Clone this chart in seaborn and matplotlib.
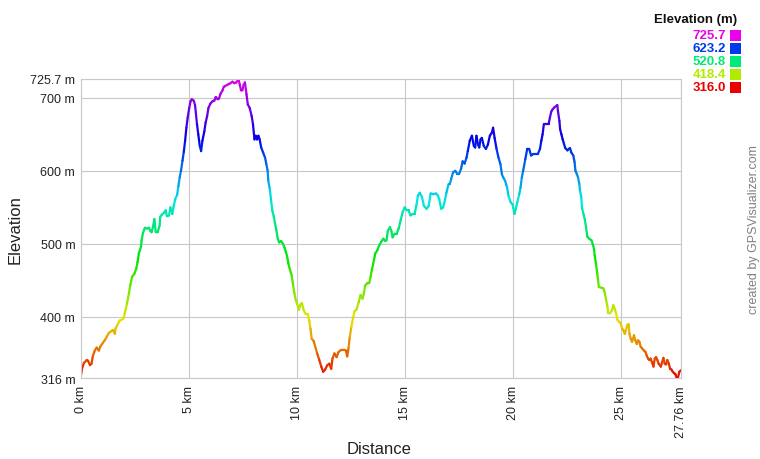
import numpy as np
import pandas as pd
import matplotlib
matplotlib.use("Agg")
import matplotlib.pyplot as plt
import seaborn as sns
from matplotlib.colors import hsv_to_rgb
from matplotlib.patches import Rectangle

# ---------------------------------------------------------------------------
# DATA
# ---------------------------------------------------------------------------
distance_km = [
    0.00, 0.06, 0.15, 0.28, 0.34, 0.43, 0.50, 0.56, 0.65, 0.74,
    0.84, 0.90, 0.99, 1.11, 1.21, 1.30, 1.39, 1.49, 1.58, 1.61,
    1.70, 1.80, 1.89, 1.98, 2.04, 2.14, 2.23, 2.29, 2.38, 2.48,
    2.57, 2.63, 2.69, 2.79, 2.82, 2.88, 2.97, 3.07, 3.16, 3.22,
    3.28, 3.34, 3.41, 3.47, 3.56, 3.65, 3.68, 3.75, 3.87, 3.93,
    3.99, 4.09, 4.15, 4.24, 4.30, 4.37, 4.46, 4.52, 4.58, 4.64,
    4.71, 4.77, 4.83, 4.89, 4.95, 5.02, 5.08, 5.14, 5.23, 5.29,
    5.38, 5.44, 5.51, 5.57, 5.63, 5.72, 5.78, 5.85, 5.91, 6.00,
    6.09, 6.18, 6.25, 6.34, 6.40, 6.46, 6.56, 6.62, 6.68, 6.80,
    6.93, 7.02, 7.11, 7.20, 7.30, 7.36, 7.42, 7.48, 7.54, 7.60,
    7.67, 7.73, 7.82, 7.91, 7.97, 8.04, 8.10, 8.16, 8.22, 8.28,
    8.35, 8.44, 8.53, 8.59, 8.65, 8.68, 8.75, 8.81, 8.87, 8.93,
    8.99, 9.05, 9.12, 9.18, 9.27, 9.36, 9.43, 9.49, 9.55, 9.61,
    9.67, 9.76, 9.83, 9.89, 9.95, 10.01, 10.10, 10.17, 10.23, 10.32,
    10.41, 10.51, 10.57, 10.63, 10.69, 10.78,
    10.94, 11.04, 11.13, 11.22, 11.31, 11.41, 11.50, 11.59, 11.65, 11.74,
    11.84, 11.93, 12.05, 12.18, 12.27, 12.33, 12.39, 12.45, 12.52, 12.61,
    12.67, 12.76, 12.86, 12.95, 13.04, 13.10, 13.16, 13.26, 13.35, 13.41,
    13.47, 13.57, 13.63, 13.72, 13.81, 13.91, 14.00, 14.09, 14.15, 14.21,
    14.31, 14.37, 14.43, 14.52, 14.62, 14.71, 14.80, 14.89, 14.99, 15.08,
    15.17, 15.26, 15.36, 15.45, 15.54, 15.60, 15.69, 15.79, 15.88, 16.00,
    16.10, 16.19, 16.31, 16.44, 16.53,
    16.59, 16.68, 16.77, 16.86, 16.92, 17.02, 17.08, 17.14, 17.23, 17.33,
    17.42, 17.51, 17.60, 17.67, 17.76, 17.85, 17.91, 18.00, 18.10, 18.19,
    18.25, 18.31, 18.38, 18.44, 18.50, 18.56, 18.65, 18.75, 18.84, 18.93,
    19.02, 19.08, 19.15, 19.24, 19.33, 19.42, 19.49, 19.55, 19.64, 19.73,
    19.79, 19.89, 19.98, 20.07, 20.13, 20.20, 20.29, 20.35, 20.41, 20.47,
    20.57, 20.66, 20.75, 20.84, 20.94, 21.03, 21.15, 21.25, 21.31, 21.37,
    21.43, 21.52, 21.65, 21.71, 21.77, 21.83, 21.92,
    22.05, 22.08, 22.15, 22.18, 22.24, 22.30, 22.36, 22.42, 22.52, 22.58,
    22.64, 22.70, 22.79, 22.85, 22.89, 22.95, 23.01, 23.07, 23.10, 23.16,
    23.19, 23.26, 23.32, 23.38, 23.44, 23.53, 23.63, 23.69, 23.75, 23.78,
    23.84, 23.90, 23.94, 23.97, 24.09, 24.18, 24.24, 24.31, 24.37, 24.40,
    24.49, 24.58, 24.64, 24.71, 24.77, 24.83, 24.92, 24.98, 25.05, 25.11,
    25.17, 25.23, 25.29, 25.35, 25.39, 25.45, 25.51, 25.60, 25.66, 25.73,
    25.79, 25.85, 25.91, 25.97, 26.06, 26.13, 26.19, 26.25, 26.31, 26.37,
    26.43, 26.50, 26.56, 26.62, 26.68, 26.74, 26.84, 26.90, 26.96, 27.02,
    27.08, 27.14, 27.21, 27.27, 27.33, 27.39, 27.45, 27.51, 27.58, 27.64,
    27.70, 27.76,
]
elevation_m = [
    318, 329, 337, 341, 340, 334, 336, 346, 354, 358,
    354, 359, 363, 368, 373, 378, 380, 382, 377, 384,
    389, 395, 396, 398, 405, 418, 432, 443, 455, 459,
    466, 475, 487, 496, 505, 515, 522, 521, 522, 518,
    516, 523, 534, 516, 516, 525, 537, 540, 543, 546,
    538, 539, 550, 541, 551, 561, 567, 579, 591, 600,
    614, 626, 641, 659, 673, 686, 695, 698, 696, 690,
    664, 650, 634, 627, 641, 654, 666, 675, 686, 692,
    695, 696, 701, 698, 699, 705, 710, 715, 716, 718,
    720, 722, 720, 721, 725.7, 718, 710, 710, 718, 721,
    705, 691, 686, 675, 664, 643, 648, 643, 648, 643,
    632, 625, 618, 609, 600, 586, 575, 559, 545, 538,
    528, 519, 507, 502, 504, 500, 495, 489, 483, 473,
    466, 457, 443, 432, 423, 418, 410, 417, 419, 409,
    404, 404, 395, 384, 370, 367,
    350, 341, 332, 325, 328, 334, 336, 329, 343, 350,
    345, 352, 355, 355, 354, 346, 357, 373, 386, 400,
    408, 410, 420, 430, 425, 432, 443, 446, 446, 455,
    464, 478, 487, 491, 498, 503, 507, 504, 505, 518,
    523, 518, 509, 514, 514, 521, 532, 543, 550, 546,
    546, 539, 541, 541, 554, 566, 570, 564, 552, 548,
    552, 569, 568, 569, 566,
    561, 548, 550, 561, 570, 582, 582, 589, 598, 600,
    596, 596, 603, 613, 610, 618, 627, 641, 648, 634,
    632, 648, 636, 632, 643, 645, 634, 630, 636, 648,
    652, 659, 645, 630, 618, 609, 595, 591, 586, 577,
    566, 557, 554, 541, 548, 557, 568, 577, 591, 600,
    616, 630, 630, 621, 623, 623, 623, 630, 641, 650,
    664, 664, 664, 673, 681, 684, 687,
    690, 682, 668, 657, 650, 643, 637, 631, 628, 630,
    631, 625, 621, 612, 600, 596, 591, 582, 573, 564,
    550, 541, 534, 523, 510, 507, 505, 500, 493, 484,
    473, 459, 450, 441, 440, 439, 434, 423, 414, 405,
    405, 409, 416, 411, 405, 396, 393, 392, 384, 382,
    377, 382, 389, 390, 377, 370, 366, 375, 368, 363,
    368, 366, 359, 357, 354, 352, 347, 343, 341, 343,
    338, 332, 343, 345, 341, 336, 332, 338, 344, 336,
    335, 341, 336, 329, 328, 325, 323, 322, 316, 318,
    325, 327,
]
assert len(distance_km) == len(elevation_m)

legend_values = [725.7, 623.2, 520.8, 418.4, 316.0]
x_ticks = [0, 5, 10, 15, 20, 25, 27.76]
x_labels = ["0 km", "5 km", "10 km", "15 km", "20 km", "25 km", "27.76 km"]
y_ticks = [316, 400, 500, 600, 700, 725.7]
y_labels = ["316 m", "400 m", "500 m", "600 m", "700 m", "725.7 m"]

ELEV_MIN, ELEV_MAX = 316.0, 725.7
DIST_MAX = 27.76


def elev_color(v, value=0.9):
    # GPSVisualizer style: hue runs red -> magenta with elevation
    frac = np.clip((v - ELEV_MIN) / (ELEV_MAX - ELEV_MIN), 0, 1)
    return tuple(hsv_to_rgb([frac * 300 / 360, 1.0, value]))


# ---------------------------------------------------------------------------
# SEGMENT TABLE (one short line per pair of points, coloured by elevation)
# ---------------------------------------------------------------------------
rows = []
palette = {}
for i in range(len(distance_km) - 1):
    mid = (elevation_m[i] + elevation_m[i + 1]) / 2
    palette[i] = elev_color(mid)
    rows.append({"seg": i, "Distance": distance_km[i], "Elevation": elevation_m[i]})
    rows.append({"seg": i, "Distance": distance_km[i + 1], "Elevation": elevation_m[i + 1]})
seg_df = pd.DataFrame(rows)

# ---------------------------------------------------------------------------
# PLOT
# ---------------------------------------------------------------------------
sns.set_style("white")
plt.rcParams["font.family"] = ["Liberation Sans", "DejaVu Sans"]

fig = plt.figure(figsize=(7.6, 4.6), dpi=100)
ax = fig.add_axes([80.7 / 760, 80.7 / 460, 600 / 760, 299.3 / 460])

sns.lineplot(data=seg_df, x="Distance", y="Elevation", hue="seg", palette=palette,
             units="seg", estimator=None, sort=False, legend=False,
             linewidth=1.6, solid_capstyle="round", ax=ax)

ax.set_xlim(0, DIST_MAX)
ax.set_ylim(ELEV_MIN, ELEV_MAX)

grid_c = "#c8c8c8"
ax.set_xticks(x_ticks)
ax.set_xticklabels(x_labels, rotation=90, fontsize=9, color="#222222")
ax.set_yticks(y_ticks)
ax.set_yticklabels(y_labels, fontsize=9, color="#222222")
ax.tick_params(axis="both", length=0)
ax.tick_params(axis="x", pad=5)
ax.tick_params(axis="y", pad=4)
ax.grid(True, color=grid_c, linewidth=0.8)
ax.set_axisbelow(True)
for s in ax.spines.values():
    s.set_color(grid_c)
    s.set_linewidth(0.8)

ax.set_xlabel("Distance", fontsize=12, color="#222222")
ax.set_ylabel("Elevation", fontsize=12, color="#222222")
ax.xaxis.set_label_coords(0.498, -0.208)
ax.yaxis.set_label_coords(-0.097, 0.5)

# colour legend, top right
fig.text(737 / 760, 1 - 20 / 460, "Elevation (m)", ha="right", va="center",
         fontsize=9.5, fontweight="bold", color="#111111")
for k, v in enumerate(legend_values):
    yc = 36 + k * 13
    c = elev_color(v, value=0.92)
    fig.text(726 / 760, 1 - yc / 460, f"{v:.1f}", ha="right", va="center",
             fontsize=9.5, fontweight="bold", color=c)
    fig.patches.append(Rectangle((730 / 760, 1 - (yc + 5.5) / 460), 11 / 760, 11 / 460,
                                 transform=fig.transFigure, facecolor=c, edgecolor="none"))

fig.text(753.5 / 760, 1 - 230 / 460, "created by GPSVisualizer.com", rotation=90,
         ha="center", va="center", fontsize=9, color="#808080")

fig.savefig("out.png", dpi=100)
plt.close(fig)
